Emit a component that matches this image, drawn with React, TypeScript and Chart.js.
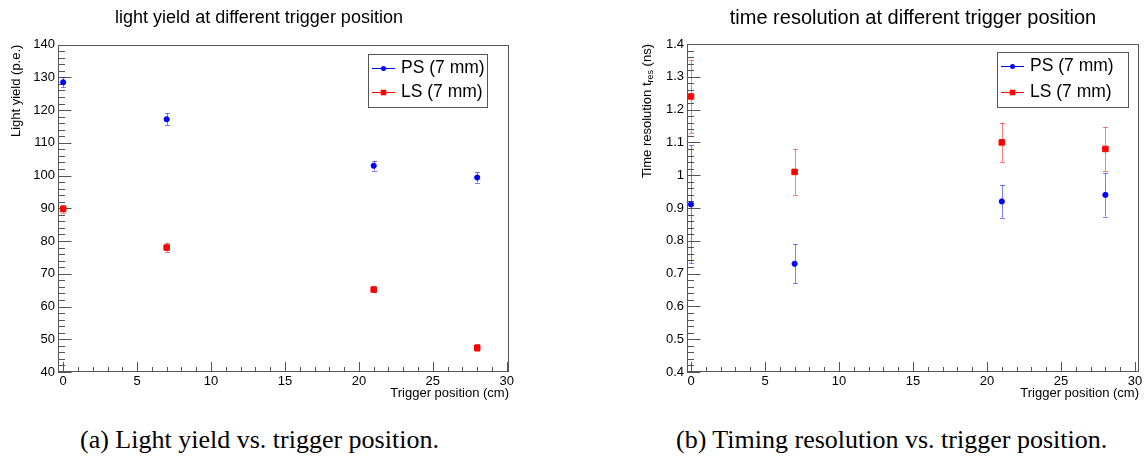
import { useEffect, useRef } from 'react';
import { Chart, registerables } from 'chart.js';

Chart.register(...registerables);

// ---------- data ----------
const triggerPositions = [0, 7, 21, 28];

const lightYieldPS = [128.5, 117.2, 103.0, 99.4];
const lightYieldPSErr = [1.6, 1.8, 1.5, 1.6];
const lightYieldLS = [89.8, 78.0, 65.2, 47.4];
const lightYieldLSErr = [1.2, 1.5, 0.9, 1.0];

const timeResPS = [0.911, 0.73, 0.92, 0.94];
const timeResPSErr = [0.18, 0.06, 0.05, 0.066];
const timeResLS = [1.24, 1.01, 1.10, 1.08];
const timeResLSErr = [0.112, 0.07, 0.06, 0.068];

const seriesLabels = ['PS (7 mm)', 'LS (7 mm)'];
const xTicksStep = 5;

const SANS = '"Liberation Sans", Arial, Helvetica, sans-serif';
const SERIF = '"Liberation Serif", "Times New Roman", serif';
const FRAME = '#555';

type LegendBox = { right: number; top: number; width: number; height: number };

function rootPlugin(legend: LegendBox, yTitleParts: { text: string; sub?: boolean }[] | null) {
  return {
    id: 'rootStyle',
    beforeDatasetsDraw(chart: any) {
      const { ctx, chartArea } = chart;
      const { left, right, top, bottom } = chartArea;
      ctx.save();
      // frame
      ctx.strokeStyle = FRAME;
      ctx.lineWidth = 1;
      ctx.strokeRect(Math.round(left) + 0.5, Math.round(top) + 0.5, Math.round(right - left) - 1, Math.round(bottom - top) - 1);
      // inner ticks
      const drawTicks = (scale: any, horizontal: boolean) => {
        const majors = scale.ticks.map((t: any) => t.value);
        if (majors.length < 2) return;
        const step = majors[1] - majors[0];
        const minor = step / 5;
        const kMin = Math.ceil(scale.min / minor - 1e-6);
        const kMax = Math.floor(scale.max / minor + 1e-6);
        const majorLen = horizontal ? 10 : 13.5;
        const minorLen = horizontal ? 5 : 7;
        ctx.beginPath();
        for (let k = kMin; k <= kMax; k++) {
          const v = k * minor;
          const r = v / step;
          const isMajor = Math.abs(r - Math.round(r)) < 1e-6;
          const len = isMajor ? majorLen : minorLen;
          const p = Math.round(scale.getPixelForValue(v)) + 0.5;
          if (horizontal) {
            ctx.moveTo(p, bottom);
            ctx.lineTo(p, bottom - len);
          } else {
            ctx.moveTo(left, p);
            ctx.lineTo(left + len, p);
          }
        }
        ctx.strokeStyle = FRAME;
        ctx.stroke();
      };
      drawTicks(chart.scales.x, true);
      drawTicks(chart.scales.y, false);

      // error bars
      chart.data.datasets.forEach((ds: any, i: number) => {
        const meta = chart.getDatasetMeta(i);
        ctx.strokeStyle = ds.errorColor;
        ctx.lineWidth = 1;
        meta.data.forEach((pt: any, j: number) => {
          const d = ds.data[j];
          const e = ds.errors[j];
          const x = Math.round(pt.x) + 0.5;
          const y1 = chart.scales.y.getPixelForValue(d.y + e);
          const y2 = chart.scales.y.getPixelForValue(d.y - e);
          ctx.beginPath();
          ctx.moveTo(x, y1);
          ctx.lineTo(x, y2);
          ctx.moveTo(x - 2.5, Math.round(y1) + 0.5);
          ctx.lineTo(x + 2.5, Math.round(y1) + 0.5);
          ctx.moveTo(x - 2.5, Math.round(y2) + 0.5);
          ctx.lineTo(x + 2.5, Math.round(y2) + 0.5);
          ctx.stroke();
        });
      });
      ctx.restore();
    },
    afterDraw(chart: any) {
      const { ctx, chartArea } = chart;
      ctx.save();
      // legend
      const bx = Math.round(chartArea.right - legend.right - legend.width);
      const by = Math.round(chartArea.top + legend.top);
      ctx.fillStyle = '#fff';
      ctx.fillRect(bx, by, legend.width, legend.height);
      ctx.strokeStyle = FRAME;
      ctx.lineWidth = 1;
      ctx.strokeRect(bx + 0.5, by + 0.5, legend.width, legend.height);
      const rows = [0.26, 0.72];
      chart.data.datasets.forEach((ds: any, i: number) => {
        const cy = Math.round(by + legend.height * rows[i]) + 0.5;
        ctx.strokeStyle = ds.borderColor;
        ctx.beginPath();
        ctx.moveTo(bx + 4, cy);
        ctx.lineTo(bx + 27, cy);
        ctx.stroke();
        ctx.fillStyle = ds.backgroundColor;
        if (ds.pointStyle === 'rect') {
          ctx.fillRect(bx + 15.5 - 2.8, cy - 2.8, 5.6, 5.6);
        } else {
          ctx.beginPath();
          ctx.arc(bx + 15.5, cy, 2.5, 0, Math.PI * 2);
          ctx.fill();
        }
        ctx.fillStyle = '#000';
        ctx.font = `17.5px ${SANS}`;
        ctx.textAlign = 'left';
        ctx.textBaseline = 'middle';
        ctx.fillText(ds.label, bx + 33, cy);
      });
      // custom y title with subscript
      if (yTitleParts) {
        const main = `13px ${SANS}`;
        const sub = `9px ${SANS}`;
        let total = 0;
        yTitleParts.forEach((p) => {
          ctx.font = p.sub ? sub : main;
          total += ctx.measureText(p.text).width;
        });
        ctx.translate(chartArea.left - 40, chartArea.top);
        ctx.rotate(-Math.PI / 2);
        ctx.fillStyle = '#000';
        ctx.textAlign = 'left';
        ctx.textBaseline = 'middle';
        let xPos = -total;
        yTitleParts.forEach((p) => {
          ctx.font = p.sub ? sub : main;
          ctx.fillText(p.text, xPos, p.sub ? 4 : 0);
          xPos += ctx.measureText(p.text).width;
        });
      }
      ctx.restore();
    },
  };
}

function makeDatasets(ps: number[], psErr: number[], ls: number[], lsErr: number[]) {
  return [
    {
      label: seriesLabels[0],
      data: triggerPositions.map((x, i) => ({ x, y: ps[i] })),
      errors: psErr,
      errorColor: 'rgba(0,0,255,0.5)',
      backgroundColor: '#0000ff',
      borderColor: '#0000ff',
      pointStyle: 'circle',
      pointRadius: 2.6,
      pointBorderWidth: 1,
    },
    {
      label: seriesLabels[1],
      data: triggerPositions.map((x, i) => ({ x, y: ls[i] })),
      errors: lsErr,
      errorColor: 'rgba(255,0,0,0.5)',
      backgroundColor: '#ff0000',
      borderColor: '#ff0000',
      pointStyle: 'rect',
      pointRadius: 3.9,
      pointBorderWidth: 1,
    },
  ];
}

function baseOptions(opts: {
  title: string;
  titleFull: boolean;
  titleSize: number;
  titlePad: { top: number; bottom: number };
  padLeft: number;
  padRight: number;
  yWidth: number;
  yMin: number;
  yMax: number;
  yStep: number;
  yTitle: string | null;
  xMin: number;
  xMax: number;
  yFmt: (v: number) => string;
}) {
  return {
    responsive: false,
    animation: false,
    layout: { padding: { left: opts.padLeft, right: opts.padRight, top: 0, bottom: 0 } },
    plugins: {
      legend: { display: false },
      tooltip: { enabled: false },
      title: {
        display: true,
        text: opts.title,
        fullSize: opts.titleFull,
        color: '#000',
        font: { family: SANS, size: opts.titleSize, weight: 'normal' },
        padding: opts.titlePad,
      },
    },
    scales: {
      x: {
        type: 'linear',
        min: opts.xMin,
        max: opts.xMax,
        afterFit: (s: any) => {
          s.height = 38;
        },
        grid: { display: false, drawTicks: false },
        border: { display: false },
        ticks: {
          stepSize: xTicksStep,
          includeBounds: false,
          padding: 2,
          color: '#000',
          font: { family: SANS, size: 13 },
          maxRotation: 0,
        },
        title: {
          display: true,
          text: 'Trigger position (cm)',
          align: 'end',
          color: '#000',
          font: { family: SANS, size: 13 },
          padding: { top: 0, bottom: 9 },
        },
      },
      y: {
        type: 'linear',
        min: opts.yMin,
        max: opts.yMax,
        afterFit: (s: any) => {
          s.width = opts.yWidth;
        },
        grid: { display: false, drawTicks: false },
        border: { display: false },
        ticks: {
          stepSize: opts.yStep,
          includeBounds: false,
          padding: 3,
          color: '#000',
          font: { family: SANS, size: 13 },
          callback: (v: any) => opts.yFmt(Number(v)),
        },
        title: {
          display: !!opts.yTitle,
          text: opts.yTitle || '',
          align: 'end',
          color: '#000',
          font: { family: SANS, size: 13 },
          padding: { top: 0, bottom: 0 },
        },
      },
    },
  };
}

export default function App() {
  const leftRef = useRef<HTMLCanvasElement | null>(null);
  const rightRef = useRef<HTMLCanvasElement | null>(null);

  useEffect(() => {
    const left = new Chart(leftRef.current as HTMLCanvasElement, {
      type: 'scatter',
      data: { datasets: makeDatasets(lightYieldPS, lightYieldPSErr, lightYieldLS, lightYieldLSErr) as any },
      options: baseOptions({
        title: 'light yield at different trigger position',
        titleFull: true,
        titleSize: 18,
        titlePad: { top: 7, bottom: 16 },
        padLeft: 9,
        padRight: 64,
        yWidth: 49,
        yMin: 40,
        yMax: 140,
        yStep: 10,
        yTitle: 'Light yield (p.e.)',
        xMin: -0.35,
        xMax: 30.15,
        yFmt: (v) => String(Math.round(v)),
      }) as any,
      plugins: [rootPlugin({ right: 22, top: 9, width: 119, height: 53 }, null)],
    });
    const right = new Chart(rightRef.current as HTMLCanvasElement, {
      type: 'scatter',
      data: { datasets: makeDatasets(timeResPS, timeResPSErr, timeResLS, timeResLSErr) as any },
      options: baseOptions({
        title: 'time resolution at different trigger position',
        titleFull: false,
        titleSize: 20,
        titlePad: { top: 6, bottom: 14 },
        padLeft: 0,
        padRight: 7,
        yWidth: 114,
        yMin: 0.4,
        yMax: 1.4,
        yStep: 0.1,
        yTitle: null,
        xMin: -0.27,
        xMax: 30.27,
        yFmt: (v) => String(Math.round(v * 10) / 10),
      }) as any,
      plugins: [
        rootPlugin({ right: 11, top: 8, width: 131, height: 55 }, [
          { text: 'Time resolution t' },
          { text: 'res', sub: true },
          { text: ' (ns)' },
        ]),
      ],
    });
    return () => {
      left.destroy();
      right.destroy();
    };
  }, []);

  return (
    <div style={{ position: 'absolute', left: 0, top: 0, width: 1146, height: 464, background: '#fff', overflow: 'hidden' }}>
      <canvas ref={leftRef} width={573} height={410} style={{ position: 'absolute', left: 0, top: 0, width: 573, height: 410 }} />
      <canvas ref={rightRef} width={573} height={410} style={{ position: 'absolute', left: 573, top: 0, width: 573, height: 410 }} />
      <div style={{ position: 'absolute', left: 80, top: 425, fontFamily: SERIF, fontSize: 26, lineHeight: '30px', whiteSpace: 'nowrap', color: '#000' }}>
        (a) Light yield vs. trigger position.
      </div>
      <div style={{ position: 'absolute', left: 676, top: 425, fontFamily: SERIF, fontSize: 26, lineHeight: '30px', whiteSpace: 'nowrap', color: '#000' }}>
        (b) Timing resolution vs. trigger position.
      </div>
    </div>
  );
}
